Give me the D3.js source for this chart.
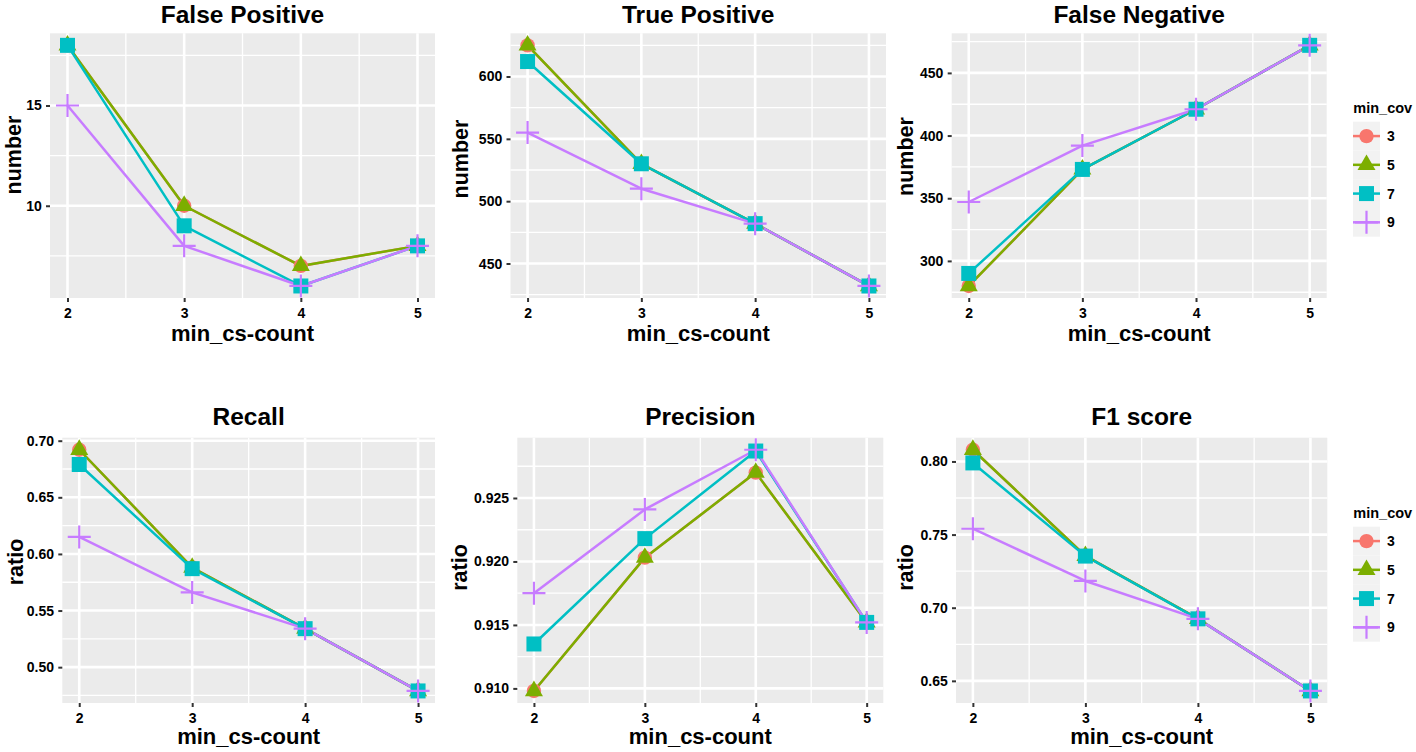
<!DOCTYPE html>
<html>
<head>
<meta charset="utf-8">
<script src="https://cdn.jsdelivr.net/npm/d3@7"></script>
<style>
  html, body { margin: 0; padding: 0; background: #ffffff; }
  svg { display: block; }
  text { font-family: "Liberation Sans", Arial, Helvetica, sans-serif; font-weight: bold; fill: #000; }
</style>
</head>
<body>
<svg id="chart" width="1416" height="752"></svg>
<script>
// ---------------- DATA ----------------
const xCategories = [2, 3, 4, 5];                 // min_cs-count
const seriesNames = ["3", "5", "7", "9"];          // min_cov
const seriesColors = ["#F8766D", "#7CAE00", "#00BFC4", "#C77CFF"];
const seriesShapes = ["circle", "triangle", "square", "plus"];

// one row per min_cov series (3, 5, 7, 9), one value per min_cs-count (2..5)
const falsePositive = [
  [18, 10, 7, 8],
  [18, 10, 7, 8],
  [18, 9, 6, 8],
  [15, 8, 6, 8]
];
const truePositive = [
  [625, 530, 482, 432],
  [625, 530, 482, 432],
  [612, 530, 482, 432],
  [555, 510, 482, 432]
];
const falseNegative = [
  [280, 373, 421, 472],
  [280, 373, 421, 472],
  [290, 373, 421, 472],
  [347, 392, 421, 472]
];
const recall = [
  [0.692, 0.588, 0.534, 0.479],
  [0.692, 0.588, 0.534, 0.479],
  [0.679, 0.587, 0.534, 0.479],
  [0.615, 0.566, 0.534, 0.479]
];
const precision = [
  [0.9098, 0.9203, 0.9270, 0.9152],
  [0.9098, 0.9203, 0.9270, 0.9152],
  [0.9135, 0.9218, 0.9287, 0.9152],
  [0.9175, 0.9241, 0.9288, 0.9152]
];
const f1Score = [
  [0.808, 0.7355, 0.6925, 0.6431],
  [0.808, 0.7355, 0.6925, 0.6431],
  [0.799, 0.7353, 0.6924, 0.6431],
  [0.754, 0.7183, 0.6924, 0.6431]
];

// tick labels
const fpTicks = ["10", "15"];
const tpTicks = ["450", "500", "550", "600"];
const fnTicks = ["300", "350", "400", "450"];
const recallTicks = ["0.50", "0.55", "0.60", "0.65", "0.70"];
const precisionTicks = ["0.910", "0.915", "0.920", "0.925"];
const f1Ticks = ["0.65", "0.70", "0.75", "0.80"];

const panelTitles = ["False Positive", "True Positive", "False Negative", "Recall", "Precision", "F1 score"];
const xTitle = "min_cs-count";
const legendTitle = "min_cov";

// ---------------- LAYOUT ----------------
const panels = [
  { title: panelTitles[0], data: falsePositive, ticks: fpTicks, ylab: "number",
    x0: 50, x1: 435, y0: 33.3, y1: 298, ylabX: 20.7, ylabY: 155, titleY: 22.5, xlabY: 341 },
  { title: panelTitles[1], data: truePositive, ticks: tpTicks, ylab: "number",
    x0: 510.5, x1: 886, y0: 33.3, y1: 298, ylabX: 468.3, ylabY: 159, titleY: 22.5, xlabY: 341 },
  { title: panelTitles[2], data: falseNegative, ticks: fnTicks, ylab: "number",
    x0: 951.7, x1: 1326.7, y0: 33.3, y1: 298, ylabX: 913.3, ylabY: 156.5, titleY: 22.5, xlabY: 341 },
  { title: panelTitles[3], data: recall, ticks: recallTicks, ylab: "ratio",
    x0: 62.3, x1: 435, y0: 437.7, y1: 703, ylabX: 23, ylabY: 562, titleY: 424.5, xlabY: 744 },
  { title: panelTitles[4], data: precision, ticks: precisionTicks, ylab: "ratio",
    x0: 517.3, x1: 883.3, y0: 437.7, y1: 703, ylabX: 466.7, ylabY: 567.5, titleY: 424.5, xlabY: 744 },
  { title: panelTitles[5], data: f1Score, ticks: f1Ticks, ylab: "ratio",
    x0: 956, x1: 1327.3, y0: 437.7, y1: 703, ylabX: 913, ylabY: 567.5, titleY: 424.5, xlabY: 744 }
];

const legends = [
  { titleY: 113, keysTop: 121.7 },
  { titleY: 517.7, keysTop: 526.7 }
];

const svg = d3.select("#chart");

function shapePath(shape) {
  if (shape === "circle") return d3.symbol().type(d3.symbolCircle).size(Math.PI * 7.2 * 7.2)();
  if (shape === "triangle") {
    const s = 18, h = s * Math.sqrt(3) / 2;
    return `M0,${-h * 2 / 3}L${s / 2},${h / 3}L${-s / 2},${h / 3}Z`;
  }
  if (shape === "square") return "M-7.5,-7.5H7.5V7.5H-7.5Z";
  const a = 11.5;
  return `M${-a},0H${a}M0,${-a}V${a}`;
}

function drawMarker(g, shape, color, x, y) {
  const p = g.append("path").attr("d", shapePath(shape)).attr("transform", `translate(${x},${y})`);
  if (shape === "plus") p.attr("fill", "none").attr("stroke", color).attr("stroke-width", 2.2);
  else p.attr("fill", color).attr("stroke", "none");
}

panels.forEach(p => {
  const g = svg.append("g");
  const allVals = p.data.flat();
  const [mn, mx] = d3.extent(allVals);
  const ey = (mx - mn) * 0.05;
  const exX = (d3.max(xCategories) - d3.min(xCategories)) * 0.05;

  const x = d3.scaleLinear()
    .domain([d3.min(xCategories) - exX, d3.max(xCategories) + exX])
    .range([p.x0, p.x1]);
  const y = d3.scaleLinear().domain([mn - ey, mx + ey]).range([p.y1, p.y0]);

  // panel background
  g.append("rect").attr("x", p.x0).attr("y", p.y0)
    .attr("width", p.x1 - p.x0).attr("height", p.y1 - p.y0).attr("fill", "#EBEBEB");

  const tickVals = p.ticks.map(Number);
  const step = tickVals[1] - tickVals[0];
  const yMinor = [];
  for (let i = -1; i < tickVals.length; i++) {
    const v = tickVals[0] + (i + 0.5) * step;
    if (v > y.domain()[0] && v < y.domain()[1]) yMinor.push(v);
  }
  const xMinor = [];
  for (let i = 0; i < xCategories.length - 1; i++) xMinor.push((xCategories[i] + xCategories[i + 1]) / 2);

  const grid = g.append("g");
  grid.selectAll(".ymin").data(yMinor).join("line")
    .attr("x1", p.x0).attr("x2", p.x1).attr("y1", d => y(d)).attr("y2", d => y(d))
    .attr("stroke", "#fff").attr("stroke-width", 1.3);
  grid.selectAll(".xmin").data(xMinor).join("line")
    .attr("y1", p.y0).attr("y2", p.y1).attr("x1", d => x(d)).attr("x2", d => x(d))
    .attr("stroke", "#fff").attr("stroke-width", 1.3);
  grid.selectAll(".ymaj").data(tickVals).join("line")
    .attr("x1", p.x0).attr("x2", p.x1).attr("y1", d => y(d)).attr("y2", d => y(d))
    .attr("stroke", "#fff").attr("stroke-width", 2.6);
  grid.selectAll(".xmaj").data(xCategories).join("line")
    .attr("y1", p.y0).attr("y2", p.y1).attr("x1", d => x(d)).attr("x2", d => x(d))
    .attr("stroke", "#fff").attr("stroke-width", 2.6);

  // axes
  const yAxis = g.append("g").attr("transform", `translate(${p.x0},0)`)
    .call(d3.axisLeft(y).tickValues(tickVals).tickFormat((d, i) => p.ticks[i]).tickSize(4).tickPadding(4.3));
  const xAxis = g.append("g").attr("transform", `translate(0,${p.y1})`)
    .call(d3.axisBottom(x).tickValues(xCategories).tickFormat(d3.format("d")).tickSize(4).tickPadding(6.3));
  [yAxis, xAxis].forEach(a => {
    a.select(".domain").remove();
    a.selectAll(".tick line").attr("stroke", "#333").attr("stroke-width", 2);
    a.selectAll(".tick text").attr("fill", "#000")
      .style("font-size", "14px").style("font-weight", "bold")
      .style("font-family", '"Liberation Sans", Arial, sans-serif');
  });

  // lines
  const line = d3.line().x((d, i) => x(xCategories[i])).y(d => y(d));
  p.data.forEach((vals, si) => {
    g.append("path").attr("d", line(vals)).attr("fill", "none")
      .attr("stroke", seriesColors[si]).attr("stroke-width", 2.5)
      .attr("stroke-linejoin", "round");
  });
  // points
  p.data.forEach((vals, si) => {
    vals.forEach((v, i) => drawMarker(g, seriesShapes[si], seriesColors[si], x(xCategories[i]), y(v)));
  });

  // titles
  const cx = (p.x0 + p.x1) / 2;
  g.append("text").attr("x", cx).attr("y", p.titleY).attr("text-anchor", "middle")
    .style("font-size", "24.5px").text(p.title);
  g.append("text").attr("x", cx).attr("y", p.xlabY).attr("text-anchor", "middle")
    .style("font-size", "22px").text(xTitle);
  g.append("text").attr("transform", `translate(${p.ylabX},${p.ylabY}) rotate(-90)`)
    .attr("text-anchor", "middle").style("font-size", "21.5px").text(p.ylab);
});

// legends
legends.forEach(L => {
  const g = svg.append("g");
  const kx = 1353, kw = 27, kh = 28.75;
  g.append("text").attr("x", 1353.3).attr("y", L.titleY).style("font-size", "14.5px").text(legendTitle);
  seriesNames.forEach((name, i) => {
    const ky = L.keysTop + i * kh;
    g.append("rect").attr("x", kx).attr("y", ky).attr("width", kw).attr("height", kh).attr("fill", "#F2F2F2");
    g.append("line").attr("x1", kx).attr("x2", kx + kw).attr("y1", ky + kh / 2).attr("y2", ky + kh / 2)
      .attr("stroke", seriesColors[i]).attr("stroke-width", 2.5);
    drawMarker(g, seriesShapes[i], seriesColors[i], kx + kw / 2, ky + kh / 2);
    g.append("text").attr("x", 1387).attr("y", ky + kh / 2).attr("dy", "0.36em")
      .style("font-size", "14px").text(name);
  });
});
</script>
</body>
</html>
